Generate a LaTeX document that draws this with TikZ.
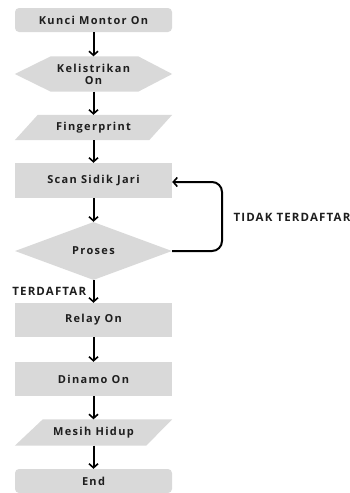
\documentclass[tikz,border=0pt]{standalone}
\usepackage{fontspec}
\setmainfont{Open Sans}[BoldFont={* Bold}]
\newfontfamily\boxfont{Open Sans Bold}[LetterSpace=12]
\newfontfamily\edgefont{Open Sans Bold}[LetterSpace=10]
\usetikzlibrary{shapes.geometric,arrows.meta,backgrounds}
\definecolor{boxgray}{RGB}{217,217,217}
\definecolor{txt}{RGB}{30,30,30}
\begin{document}
\begin{tikzpicture}[x=1pt,y=1pt,
  lbl/.style={font=\boxfont\fontsize{11}{12}\selectfont, text=txt},
  base/.style={lbl, minimum width=157pt, inner sep=0pt, align=center},
  rectbox/.style={base, fill=boxgray},
  roundbox/.style={base, fill=boxgray, rounded corners=4pt},
  ghost/.style={base},
  decision/.style={lbl, shape=diamond, fill=boxgray, minimum width=157pt, minimum height=58pt, aspect=2.7, inner sep=0pt},
  arr/.style={line width=2pt, -{Straight Barb[length=4pt,width=9pt,line width=1.6pt]}},
  edgelbl/.style={font=\edgefont\fontsize{11.5}{12}\selectfont, text=txt}
]
\useasboundingbox (0,0) rectangle (350,-493);

\node[roundbox, minimum height=24pt] (k1) at (93.5,-20) {Kunci Montor On};
\node[ghost, minimum height=35pt] (k2) at (93.5,-74) {Kelistrikan\\On};
\node[ghost, minimum height=25pt] (k3) at (93.5,-127.5) {Fingerprint};
\node[rectbox, minimum height=35pt] (k4) at (93.5,-180.5) {Scan Sidik Jari};
\node[decision] (k5) at (93.5,-251) {Proses};
\node[rectbox, minimum height=34pt] (k6) at (93.5,-320) {Relay On};
\node[rectbox, minimum height=34pt] (k7) at (93.5,-379) {Dinamo On};
\node[ghost, minimum height=26pt] (k8) at (93.5,-432.5) {Mesih Hidup};
\node[roundbox, minimum height=24pt] (k9) at (93.5,-481) {End};

\begin{scope}[on background layer]
  \fill[boxgray] (k2.west) -- ([xshift=36pt]k2.north west) -- ([xshift=-34pt]k2.north east)
     -- (k2.east) -- ([xshift=-34pt]k2.south east) -- ([xshift=36pt]k2.south west) -- cycle;
  \fill[boxgray] ([xshift=23pt]k3.north west) -- (k3.north east) -- ([xshift=-23pt]k3.south east) -- (k3.south west) -- cycle;
  \fill[boxgray] ([xshift=28pt]k8.north west) -- (k8.north east) -- ([xshift=-26pt]k8.south east) -- (k8.south west) -- cycle;
\end{scope}

\draw[arr] (k1) -- (k2);
\draw[arr] (k2) -- (k3);
\draw[arr] (k3) -- (k4);
\draw[arr] (k4) -- (k5);
\draw[arr] (k5) -- (k6) node[pos=0.5, left=3pt, edgelbl] {TERDAFTAR};
\draw[arr] (k6) -- (k7);
\draw[arr] (k7) -- (k8);
\draw[arr] (k8) -- (k9);

\coordinate (lp) at (222,-216);
\draw[arr, rounded corners=10pt] (k5.east) -| (lp) |- ([yshift=-1.5pt]k4.east);
\node[edgelbl, anchor=west] (tl) at (230,-217) {TIDAK TERDAFTAR};
\end{tikzpicture}
\end{document}
